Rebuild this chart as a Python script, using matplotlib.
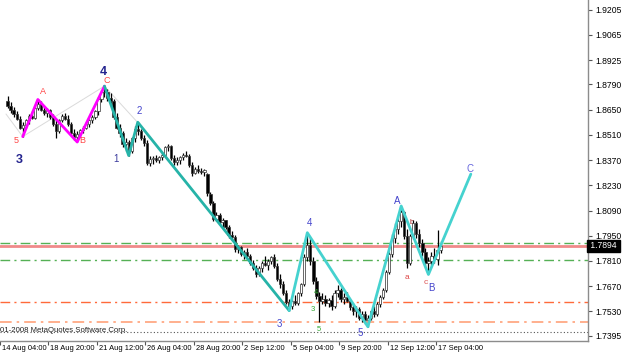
import matplotlib
matplotlib.use("Agg")
import matplotlib.pyplot as plt
import matplotlib.transforms as mtransforms

# ---------------- data ----------------
opens = [1.8700, 1.8670, 1.8645, 1.8625, 1.8600, 1.8550, 1.8565, 1.8590, 1.8615, 1.8605,
         1.8660, 1.8680, 1.8650, 1.8630, 1.8645, 1.8610, 1.8570, 1.8530, 1.8590, 1.8615,
         1.8600, 1.8570, 1.8520, 1.8500, 1.8515, 1.8535, 1.8550, 1.8570, 1.8590, 1.8610,
         1.8640, 1.8710, 1.8745, 1.8750, 1.8715, 1.8700, 1.8610, 1.8550, 1.8520, 1.8460,
         1.8470, 1.8420, 1.8490, 1.8545, 1.8530, 1.8490, 1.8465, 1.8355, 1.8375, 1.8380,
         1.8370, 1.8385, 1.8400, 1.8440, 1.8450, 1.8380, 1.8360, 1.8370, 1.8385, 1.8400,
         1.8395, 1.8340, 1.8300, 1.8320, 1.8310, 1.8305, 1.8290, 1.8180, 1.8130, 1.8045,
         1.8065, 1.8025, 1.8035, 1.8000, 1.7955, 1.7945, 1.7875, 1.7885, 1.7850, 1.7860,
         1.7840, 1.7800, 1.7770, 1.7735, 1.7770, 1.7800, 1.7790, 1.7810, 1.7830, 1.7780,
         1.7710, 1.7680, 1.7630, 1.7585, 1.7560, 1.7590, 1.7575, 1.7630, 1.7680, 1.7830,
         1.7900, 1.7810, 1.7700, 1.7615, 1.7590, 1.7600, 1.7575, 1.7595, 1.7560, 1.7635,
         1.7650, 1.7600, 1.7610, 1.7590, 1.7555, 1.7530, 1.7545, 1.7495, 1.7515, 1.7480,
         1.7495, 1.7530, 1.7515, 1.7570, 1.7610, 1.7650, 1.7750, 1.7850, 1.7940, 1.7990,
         1.8030, 1.8080, 1.7950, 1.7800, 1.7950, 1.8020, 1.7960, 1.7910, 1.7860, 1.7800,
         1.7810, 1.7840, 1.7820, 1.7870]
highs = [1.8725, 1.8690, 1.8665, 1.8640, 1.8615, 1.8580, 1.8600, 1.8625, 1.8640, 1.8670,
         1.8706, 1.8695, 1.8670, 1.8660, 1.8655, 1.8625, 1.8590, 1.8600, 1.8625, 1.8630,
         1.8620, 1.8580, 1.8540, 1.8530, 1.8545, 1.8560, 1.8580, 1.8600, 1.8620, 1.8650,
         1.8720, 1.8760, 1.8780, 1.8765, 1.8740, 1.8710, 1.8630, 1.8570, 1.8530, 1.8490,
         1.8480, 1.8500, 1.8560, 1.8580, 1.8545, 1.8510, 1.8480, 1.8390, 1.8395, 1.8400,
         1.8395, 1.8410, 1.8450, 1.8460, 1.8455, 1.8400, 1.8385, 1.8390, 1.8410, 1.8420,
         1.8405, 1.8360, 1.8330, 1.8340, 1.8325, 1.8320, 1.8300, 1.8190, 1.8140, 1.8080,
         1.8075, 1.8050, 1.8040, 1.8010, 1.7975, 1.7955, 1.7900, 1.7895, 1.7870, 1.7880,
         1.7850, 1.7815, 1.7790, 1.7780, 1.7810, 1.7835, 1.7820, 1.7840, 1.7850, 1.7800,
         1.7740, 1.7700, 1.7650, 1.7600, 1.7600, 1.7620, 1.7640, 1.7690, 1.7850, 1.7967,
         1.7945, 1.7830, 1.7720, 1.7640, 1.7630, 1.7620, 1.7605, 1.7620, 1.7650, 1.7675,
         1.7660, 1.7630, 1.7640, 1.7600, 1.7575, 1.7560, 1.7555, 1.7530, 1.7530, 1.7510,
         1.7540, 1.7560, 1.7580, 1.7620, 1.7660, 1.7760, 1.7860, 1.7960, 1.8020, 1.8060,
         1.8115, 1.8090, 1.7990, 1.7960, 1.8040, 1.8030, 1.7990, 1.7930, 1.7880, 1.7830,
         1.7860, 1.7880, 1.7980, 1.7920]
lows = [1.8660, 1.8630, 1.8610, 1.8590, 1.8540, 1.8500, 1.8550, 1.8570, 1.8595, 1.8600,
        1.8650, 1.8640, 1.8620, 1.8610, 1.8600, 1.8560, 1.8490, 1.8520, 1.8580, 1.8590,
        1.8560, 1.8510, 1.8480, 1.8470, 1.8500, 1.8520, 1.8540, 1.8555, 1.8575, 1.8600,
        1.8620, 1.8690, 1.8720, 1.8700, 1.8680, 1.8600, 1.8540, 1.8500, 1.8440, 1.8420,
        1.8395, 1.8410, 1.8470, 1.8510, 1.8480, 1.8450, 1.8340, 1.8335, 1.8350, 1.8360,
        1.8355, 1.8370, 1.8390, 1.8420, 1.8370, 1.8340, 1.8345, 1.8350, 1.8370, 1.8385,
        1.8330, 1.8280, 1.8290, 1.8300, 1.8290, 1.8280, 1.8170, 1.8120, 1.8030, 1.8030,
        1.8010, 1.8000, 1.7990, 1.7940, 1.7925, 1.7860, 1.7855, 1.7840, 1.7820, 1.7830,
        1.7790, 1.7760, 1.7720, 1.7725, 1.7750, 1.7780, 1.7760, 1.7795, 1.7770, 1.7700,
        1.7660, 1.7620, 1.7570, 1.7535, 1.7545, 1.7565, 1.7565, 1.7615, 1.7670, 1.7810,
        1.7790, 1.7680, 1.7600, 1.7470, 1.7570, 1.7560, 1.7555, 1.7540, 1.7550, 1.7610,
        1.7585, 1.7570, 1.7580, 1.7540, 1.7510, 1.7500, 1.7480, 1.7470, 1.7460, 1.7445,
        1.7480, 1.7500, 1.7505, 1.7555, 1.7600, 1.7640, 1.7740, 1.7830, 1.7910, 1.7960,
        1.8000, 1.7930, 1.7770, 1.7790, 1.7930, 1.7940, 1.7890, 1.7840, 1.7780, 1.7735,
        1.7790, 1.7800, 1.7790, 1.7855]
closes = [1.8670, 1.8645, 1.8625, 1.8600, 1.8550, 1.8565, 1.8590, 1.8615, 1.8605, 1.8660,
          1.8680, 1.8650, 1.8630, 1.8645, 1.8610, 1.8570, 1.8530, 1.8590, 1.8615, 1.8600,
          1.8570, 1.8520, 1.8500, 1.8515, 1.8535, 1.8550, 1.8570, 1.8590, 1.8610, 1.8640,
          1.8710, 1.8745, 1.8750, 1.8715, 1.8700, 1.8610, 1.8550, 1.8520, 1.8460, 1.8470,
          1.8420, 1.8490, 1.8545, 1.8530, 1.8490, 1.8465, 1.8355, 1.8375, 1.8380, 1.8370,
          1.8385, 1.8400, 1.8440, 1.8450, 1.8380, 1.8360, 1.8370, 1.8385, 1.8400, 1.8395,
          1.8340, 1.8300, 1.8320, 1.8310, 1.8305, 1.8315, 1.8185, 1.8130, 1.8045, 1.8065,
          1.8025, 1.8035, 1.8000, 1.7955, 1.7945, 1.7875, 1.7885, 1.7850, 1.7860, 1.7840,
          1.7800, 1.7770, 1.7735, 1.7770, 1.7800, 1.7790, 1.7810, 1.7830, 1.7780, 1.7710,
          1.7680, 1.7630, 1.7585, 1.7560, 1.7590, 1.7575, 1.7630, 1.7680, 1.7830, 1.7900,
          1.7810, 1.7700, 1.7615, 1.7590, 1.7600, 1.7575, 1.7595, 1.7560, 1.7635, 1.7650,
          1.7600, 1.7610, 1.7590, 1.7555, 1.7530, 1.7545, 1.7495, 1.7515, 1.7480, 1.7495,
          1.7530, 1.7515, 1.7570, 1.7610, 1.7650, 1.7750, 1.7850, 1.7940, 1.7990, 1.8030,
          1.8080, 1.7950, 1.7800, 1.7950, 1.8020, 1.7960, 1.7910, 1.7860, 1.7800, 1.7810,
          1.7840, 1.7820, 1.7870, 1.7894]

# zigzag pivots (bar index, price)
magenta_idx = [5, 10, 23, 32]
magenta_px = [1.8500, 1.8706, 1.8470, 1.8780]
gray_idx = [-0.5, 5, 32, 43, 93]
gray_px = [1.8625, 1.8500, 1.8780, 1.8578, 1.7535]
teal1_idx = [32, 40, 43, 93]
teal1_px = [1.8780, 1.8395, 1.8580, 1.7535]
teal2_idx = [93, 99, 119, 130, 139, 153]
teal2_px = [1.7535, 1.7967, 1.7445, 1.8115, 1.7735, 1.8292]

# horizontal levels
green_levels = [1.7908, 1.7815]
red_level = 1.7894
orange_level = 1.7584
light_orange_level = 1.7469
dotted_level = 1.7414

ytick_vals = [1.9205, 1.9065, 1.8925, 1.8790, 1.8650, 1.8510, 1.8370, 1.8230,
              1.8090, 1.7950, 1.7810, 1.7670, 1.7530, 1.7395]
xtick_pos = [-2.5, 13.5, 29.5, 45.5, 61.5, 77.5, 93.5, 109.5, 125.5, 141.5]
xtick_labels = ["14 Aug 04:00", "18 Aug 20:00", "21 Aug 12:00", "26 Aug 04:00",
                "28 Aug 20:00", "2 Sep 12:00", "5 Sep 04:00", "9 Sep 20:00",
                "12 Sep 12:00", "17 Sep 04:00"]

# wave labels: (text, x index, price, color, size, bold)
wave_labels = [
    ("3", 3.8, 1.8370, "#23238E", 9, True),
    ("4", 31.5, 1.8859, "#23238E", 9, True),
    ("5", 2.8, 1.8476, "#FF4444", 6.5, False),
    ("A", 11.6, 1.8748, "#FF4444", 6.5, False),
    ("B", 24.8, 1.8480, "#FF4444", 6.5, False),
    ("C", 32.8, 1.8809, "#FF4444", 6.5, False),
    ("1", 35.8, 1.8376, "#3A3A9C", 7, False),
    ("2", 43.6, 1.8642, "#4444CC", 7, False),
    ("3", 89.7, 1.7460, "#4444CC", 7, False),
    ("4", 99.8, 1.8020, "#4444CC", 7, False),
    ("5", 116.5, 1.7410, "#4444CC", 7, False),
    ("A", 128.6, 1.8143, "#4444CC", 7, False),
    ("B", 140.0, 1.7659, "#4444CC", 7, False),
    ("C", 152.8, 1.8320, "#6666DD", 7, False),
    ("4", 101.8, 1.7637, "#33AA33", 5.5, False),
    ("3", 100.8, 1.7543, "#33AA33", 5.5, False),
    ("5", 102.8, 1.7432, "#33AA33", 5.5, False),
    ("a", 131.9, 1.7716, "#DD4444", 6, False),
    ("c", 138.1, 1.7688, "#DD5555", 6, False),
    ("b", 133.5, 1.8026, "#AA2222", 5.5, False),
]

# ---------------- figure ----------------
W, H = 625, 360
fig = plt.figure(figsize=(W / 100, H / 100), dpi=100)
fig.patch.set_facecolor("white")
ax = fig.add_axes([0, 19 / H, 588 / W, 341 / H])
ax.set_facecolor("white")
ax.set_xlim(-0.5, 191.7)
ax.set_ylim(1.7366, 1.9258)

FONT = "Liberation Sans"

# horizontal lines
for lv in green_levels:
    ax.axhline(lv, color="#55B055", lw=1.0, ls=(0, (7, 3, 1.5, 3)), zorder=1)
ax.axhline(red_level, color="#F08A8A", lw=2.0, zorder=1)
ax.axhline(orange_level, color="#FF6A3A", lw=1.0, ls=(0, (7, 3, 1.5, 3)), zorder=1)
ax.axhline(light_orange_level, color="#FFA27A", lw=1.2, ls=(0, (7, 3, 1.5, 3)), zorder=1)
ax.axhline(dotted_level, color="#555555", lw=0.8, ls=(0, (1, 2)), zorder=1)

# zigzags
ax.plot(gray_idx, gray_px, color="#DADADA", lw=0.7, zorder=2)

# candles
n = len(closes)
idx = list(range(n))
ax.vlines(idx, lows, highs, color="black", lw=0.9, zorder=3)
for i in idx:
    o, c = opens[i], closes[i]
    bottom = min(o, c)
    height = max(abs(c - o), 0.0002)
    face = "white" if c >= o else "black"
    ax.bar(i, height, bottom=bottom, width=0.75, color=face,
           edgecolor="#333333", linewidth=0.5, zorder=4)

ax.plot(magenta_idx, magenta_px, color="#FF00FF", lw=2.0, zorder=5,
        solid_capstyle="round")
ax.plot(teal1_idx, teal1_px, color="#26B3A8", lw=2.0, zorder=5,
        solid_capstyle="round")
ax.plot(teal2_idx, teal2_px, color="#45D2CF", lw=2.0, zorder=5,
        solid_capstyle="round")

for txt, xi, py, col, sz, bold in wave_labels:
    ax.text(xi, py, txt, color=col, fontsize=sz, ha="center", va="center",
            fontweight="bold" if bold else "normal", family=FONT,
            zorder=2 if txt == "b" else 6)

# axes styling
for s in ["top", "left"]:
    ax.spines[s].set_visible(False)
for s in ["right", "bottom"]:
    ax.spines[s].set_color("#8C8C8C")
    ax.spines[s].set_linewidth(1.0)

ax.yaxis.tick_right()
ax.set_yticks(ytick_vals)
ax.set_yticklabels([f"{v:.4f}" for v in ytick_vals])
ax.tick_params(axis="y", direction="out", length=3, width=0.8, color="#555555",
               labelsize=6.2, pad=2, labelcolor="black")
for lab in ax.get_yticklabels():
    lab.set_family(FONT)

ax.set_xticks(xtick_pos)
ax.set_xticklabels([""] * len(xtick_pos))
ax.tick_params(axis="x", direction="out", length=3, width=0.8, color="#555555")
trans_x = mtransforms.blended_transform_factory(ax.transData, ax.transAxes)
offset = mtransforms.ScaledTranslation(2 / 100, -4 / 100, fig.dpi_scale_trans)
for pos, lab in zip(xtick_pos, xtick_labels):
    ax.text(pos, 0, lab, transform=trans_x + offset, ha="left", va="top",
            fontsize=5.4, family=FONT, color="black", clip_on=False)

# current price box
trans_y = mtransforms.blended_transform_factory(ax.transAxes, ax.transData)
ax.text(1.0, red_level, " 1.7894 ", transform=trans_y, ha="left", va="center",
        fontsize=6.2, family=FONT, color="white", clip_on=False, zorder=10,
        bbox=dict(boxstyle="square,pad=0.15", fc="black", ec="black"))

# watermark
ax.text(0.0, 1.7426, "01-2008 MetaQuotes Software Corp.", transform=trans_y,
        ha="left", va="center", fontsize=5.6, family=FONT, color="#222222",
        zorder=2)

fig.savefig("out.png", dpi=100, facecolor="white")
